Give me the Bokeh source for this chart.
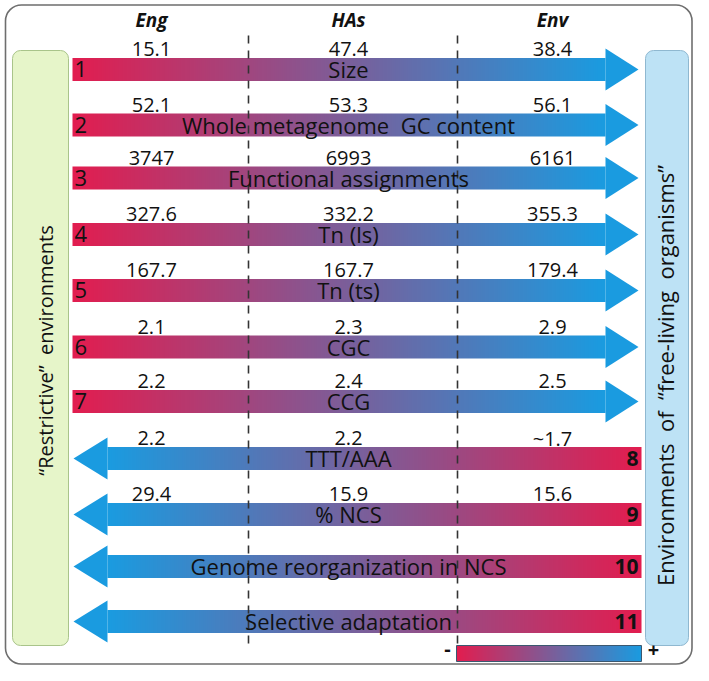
import numpy as np
from bokeh.plotting import figure
from bokeh.models import Range1d
from bokeh.core.properties import value
from bokeh.embed import file_html
from bokeh.resources import INLINE

# ---------------- data ----------------
columns = ["Eng", "HAs", "Env"]
row_numbers = ["1", "2", "3", "4", "5", "6", "7", "8", "9", "10", "11"]
labels = ["Size", "Whole metagenome \u00a0GC content", "Functional assignments",
          "Tn (ls)", "Tn (ts)", "CGC", "CCG", "TTT/AAA", "% NCS",
          "Genome reorganization in NCS", "Selective adaptation"]
eng_vals = ["15.1", "52.1", "3747", "327.6", "167.7", "2.1", "2.2", "2.2", "29.4", "", ""]
has_vals = ["47.4", "53.3", "6993", "332.2", "167.7", "2.3", "2.4", "2.2", "15.9", "", ""]
env_vals = ["38.4", "56.1", "6161", "355.3", "179.4", "2.9", "2.5", "~1.7", "15.6", "", ""]
directions = ["right"] * 7 + ["left"] * 4
left_label = "\u201cRestrictive\u201d \u00a0environments"
right_label = "Environments \u00a0of \u00a0\u201cfree-living \u00a0organisms\u201d"

# ---------------- layout (pixel space, y measured from top) ----------------
W, H = 693, 665


def fy(y):
    return H - y


TXT = 7.5  # text baseline correction (px, toward top of text)
row_cy = [69, 124.5, 177.5, 234, 290, 346.5, 401, 458, 514, 566, 621]
col_x = [151, 348, 552]
BAR_H = 11.5
HEAD_H = 21
R_BAR_L, R_HEAD, R_TIP = 72, 605, 638
L_TIP, L_HEAD, L_BAR_R = 73, 107, 641
RED = np.array([226, 29, 79], dtype=float)
BLUE = np.array([26, 155, 224], dtype=float)
BLUE_HEX = "#1a9be0"
FONT = value("Open Sans")


def gradient(c0, c1, n=256):
    t = np.linspace(0.0, 1.0, n)[:, None]
    rgb = c0[None, :] * (1 - t) + c1[None, :] * t
    img = np.empty((1, n), dtype=np.uint32)
    view = img.view(dtype=np.uint8).reshape((1, n, 4))
    view[0, :, :3] = np.round(rgb).astype(np.uint8)
    view[0, :, 3] = 255
    return img


p = figure(width=W, height=H, x_range=Range1d(0, W), y_range=Range1d(0, H),
           output_backend="svg", toolbar_location=None, min_border=0)
p.axis.visible = False
p.grid.visible = False
p.outline_line_color = None
p.background_fill_color = "white"
p.border_fill_color = "white"

# outer frame
p.quad(left=[5], right=[691.5], top=[fy(4.5)], bottom=[fy(663.5)],
       fill_color=None, line_color="#6e6e6e", line_width=1.6, border_radius=16)

# side boxes
p.quad(left=[12], right=[68], top=[fy(50)], bottom=[fy(645)],
       fill_color="#e6f5c9", line_color="#a9c48a", line_width=1, border_radius=8)
p.quad(left=[645], right=[688], top=[fy(50)], bottom=[fy(645)],
       fill_color="#bde2f5", line_color="#8fb8d0", line_width=1, border_radius=8)

# arrows
imgs, ix, iy, idw, idh = [], [], [], [], []
hx, hy = [], []
for d, cy in zip(directions, row_cy):
    if d == "right":
        imgs.append(gradient(RED, BLUE))
        ix.append(R_BAR_L); idw.append(R_HEAD - R_BAR_L)
        hx.append([R_HEAD, R_TIP, R_HEAD])
    else:
        imgs.append(gradient(BLUE, RED))
        ix.append(L_HEAD); idw.append(L_BAR_R - L_HEAD)
        hx.append([L_HEAD, L_TIP, L_HEAD])
    iy.append(fy(cy + BAR_H)); idh.append(2 * BAR_H)
    hy.append([fy(cy - HEAD_H), fy(cy), fy(cy + HEAD_H)])

# legend colour bar
LG_T, LG_B = 645, 661
imgs.append(gradient(RED, BLUE))
ix.append(456); iy.append(fy(LG_B)); idw.append(641 - 456); idh.append(LG_B - LG_T)
p.image_rgba(image=imgs, x=ix, y=iy, dw=idw, dh=idh)
p.patches(xs=hx, ys=hy, fill_color=BLUE_HEX, line_color=None)
p.quad(left=[456], right=[641], top=[fy(LG_T)], bottom=[fy(LG_B)],
       fill_color=None, line_color="#3b5870", line_width=1)

# dashed separators
p.segment(x0=[248, 457], y0=[fy(35)] * 2, x1=[248, 457], y1=[fy(643)] * 2,
          line_color="#333333", line_width=1.6, line_dash="8 7")

# column headers
p.text(x=col_x, y=[fy(27 - TXT)] * 3, text=columns, text_font=FONT, text_font_size="19px",
       text_font_style="bold italic", text_align="center", text_baseline="alphabetic",
       text_color="#111111")

# values
vx, vy, vt = [], [], []
for cy, a, b, c in zip(row_cy, eng_vals, has_vals, env_vals):
    for x, t in zip(col_x, (a, b, c)):
        if t:
            vx.append(x); vy.append(fy(cy - 13 - TXT)); vt.append(t)
p.text(x=vx, y=vy, text=vt, text_font=FONT, text_font_size="20px",
       text_align="center", text_baseline="alphabetic", text_color="#111111")

# bar labels
p.text(x=[348] * len(labels), y=[fy(cy + 7 - TXT) for cy in row_cy], text=labels,
       text_font=FONT, text_font_size="22px", text_align="center",
       text_baseline="alphabetic", text_color="#111111")

# row numbers
rn = [(n, cy) for n, d, cy in zip(row_numbers, directions, row_cy) if d == "right"]
ln = [(n, cy) for n, d, cy in zip(row_numbers, directions, row_cy) if d == "left"]
p.text(x=[74] * len(rn), y=[fy(cy + 7 - TXT) for _, cy in rn], text=[n for n, _ in rn],
       text_font=FONT, text_font_size="22px", text_align="left",
       text_baseline="alphabetic", text_color="#111111")
p.text(x=[638] * len(ln), y=[fy(cy + 7 - TXT) for _, cy in ln], text=[n for n, _ in ln],
       text_font=FONT, text_font_size="21px", text_font_style="bold", text_align="right",
       text_baseline="alphabetic", text_color="#111111")

# side labels
p.text(x=[52 - TXT], y=[fy(350)], text=[left_label], angle=np.pi / 2, text_font=FONT,
       text_font_size="20px", text_align="center", text_baseline="alphabetic",
       text_color="#111111")
p.text(x=[672 - TXT], y=[fy(375)], text=[right_label], angle=np.pi / 2, text_font=FONT,
       text_font_size="22px", text_align="center", text_baseline="alphabetic",
       text_color="#111111")

# legend signs
p.text(x=[447, 653], y=[fy(656 - TXT), fy(657 - TXT)], text=["-", "+"], text_font=FONT,
       text_font_size="20px", text_font_style="bold", text_align="center",
       text_baseline="alphabetic", text_color="#111111")

open("out.html", "w").write(file_html(p, INLINE))
